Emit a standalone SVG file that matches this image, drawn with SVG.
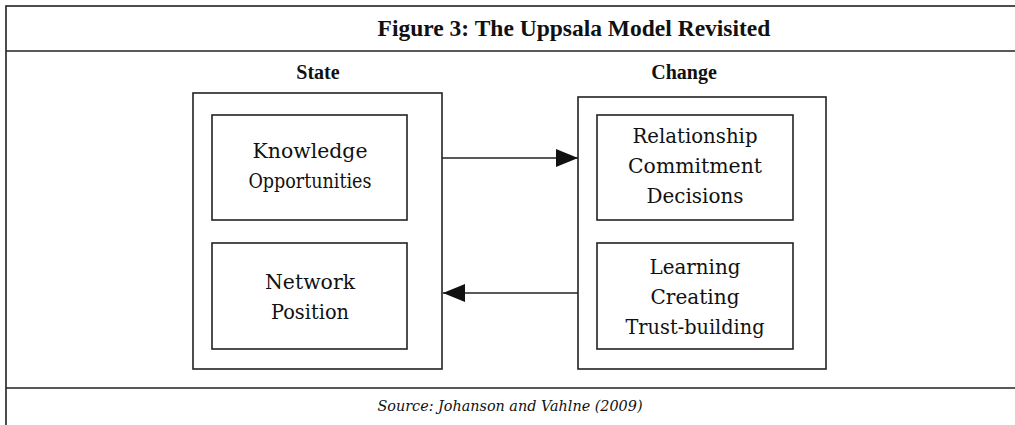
<svg xmlns="http://www.w3.org/2000/svg" width="1015" height="425" viewBox="0 0 1015 425">
<defs>
<style>
.frame{fill:none;stroke:#222;stroke-width:1.6}
.box{fill:none;stroke:#222;stroke-width:1.6}
.conn{stroke:#222;stroke-width:1.4;fill:none}
text{fill:#111;text-anchor:middle}
.t{font-family:'DejaVu Serif','Liberation Serif',serif;font-size:21px}
.h{font-family:'Liberation Serif','DejaVu Serif',serif;font-size:20px;font-weight:bold}
.title{font-family:'Liberation Serif','DejaVu Serif',serif;font-size:23.5px;font-weight:bold}
.src{font-family:'DejaVu Serif','Liberation Serif',serif;font-size:15px;font-style:italic}
</style>
<marker id="ah" viewBox="0 0 22 18" refX="22" refY="9" markerWidth="22" markerHeight="18" markerUnits="userSpaceOnUse" orient="auto">
<path d="M0,0 L22,9 L0,18 Z" fill="#111"/>
</marker>
</defs>
<rect width="1015" height="425" fill="#fff"/>
<g id="frame">
<rect class="frame" x="6" y="6" width="1030" height="440"/>
<line class="frame" x1="6" y1="51" x2="1015" y2="51"/>
<line class="frame" x1="6" y1="388" x2="1015" y2="388"/>
<text class="title" x="574" y="36">Figure 3: The Uppsala Model Revisited</text>
<text class="src" x="510" y="411" textLength="265" lengthAdjust="spacingAndGlyphs">Source: Johanson and Vahlne (2009)</text>
</g>
<g id="state">
<text class="h" x="318" y="79">State</text>
<rect class="box" x="193" y="93" width="249" height="276"/>
</g>
<g id="change">
<text class="h" x="684" y="79">Change</text>
<rect class="box" x="578" y="97" width="248" height="272"/>
</g>
<g id="knowledge">
<rect class="box" x="212" y="115" width="195" height="105"/>
<text class="t" x="310" y="158" textLength="115" lengthAdjust="spacingAndGlyphs">Knowledge</text>
<text class="t" x="310" y="188" textLength="123" lengthAdjust="spacingAndGlyphs">Opportunities</text>
</g>
<g id="network">
<rect class="box" x="212" y="243" width="195" height="106"/>
<text class="t" x="310" y="289" textLength="90" lengthAdjust="spacingAndGlyphs">Network</text>
<text class="t" x="310" y="319" textLength="78" lengthAdjust="spacingAndGlyphs">Position</text>
</g>
<g id="commitment">
<rect class="box" x="597" y="115" width="196" height="105"/>
<text class="t" x="695" y="143" textLength="125" lengthAdjust="spacingAndGlyphs">Relationship</text>
<text class="t" x="695" y="173" textLength="134" lengthAdjust="spacingAndGlyphs">Commitment</text>
<text class="t" x="695" y="203" textLength="97" lengthAdjust="spacingAndGlyphs">Decisions</text>
</g>
<g id="learning">
<rect class="box" x="597" y="243" width="196" height="106"/>
<text class="t" x="695" y="274" textLength="91" lengthAdjust="spacingAndGlyphs">Learning</text>
<text class="t" x="695" y="304" textLength="89" lengthAdjust="spacingAndGlyphs">Creating</text>
<text class="t" x="695" y="334" textLength="139" lengthAdjust="spacingAndGlyphs">Trust-building</text>
</g>
<g id="connectors">
<line class="conn" x1="442" y1="158" x2="578" y2="158" marker-end="url(#ah)"/>
<line class="conn" x1="578" y1="293" x2="443" y2="293" marker-end="url(#ah)"/>
</g>
</svg>
